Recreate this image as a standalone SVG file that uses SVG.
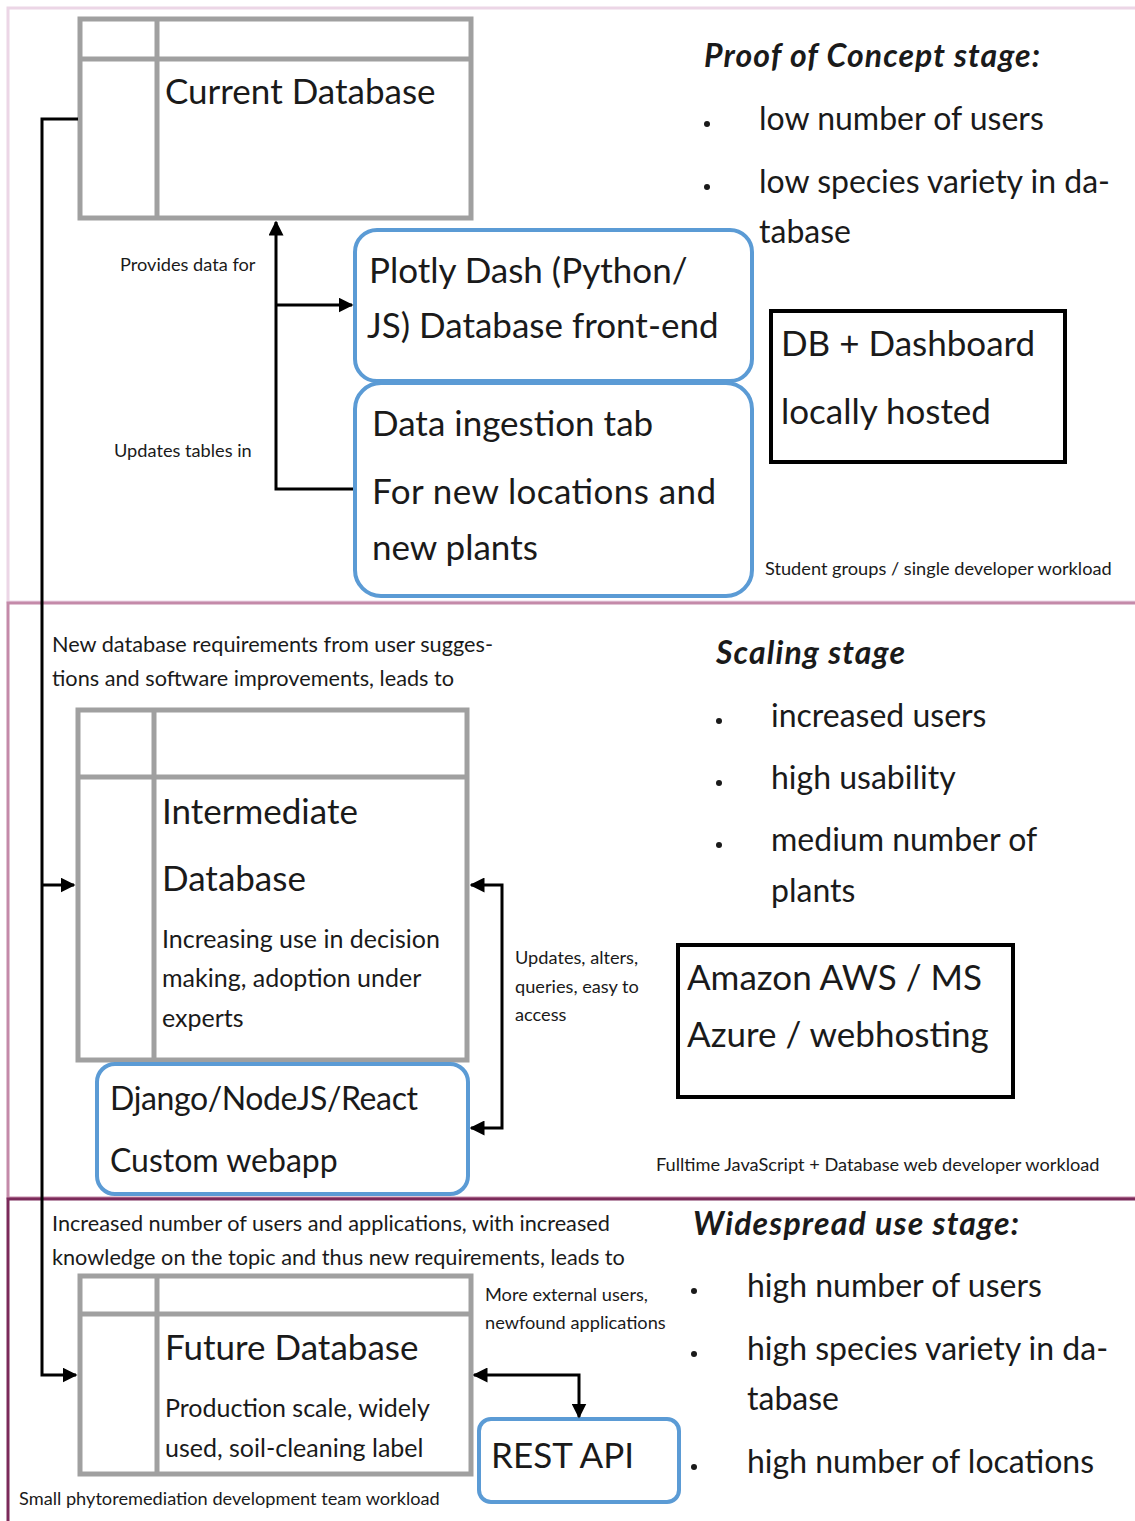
<svg xmlns="http://www.w3.org/2000/svg" width="1135" height="1521" viewBox="0 0 1135 1521">
<style>
text{font-family:Lato,"Open Sans","Noto Sans",sans-serif;fill:#1a1a1a}
.tbl{fill:#fff;stroke:#a0a0a0;stroke-width:5}
.tl{stroke:#a0a0a0;stroke-width:5}
.blue{fill:#fff;stroke:#5b9bd5;stroke-width:4}
.blk{fill:#fff;stroke:#000;stroke-width:4}
.con{fill:none;stroke:#000;stroke-width:3}
.big{font-size:35px}
.dj{font-size:32px}
.mid{font-size:25px}
.note{font-size:21.7px}
.sm{font-size:18.2px}
.hd{font-size:32px;font-weight:bold;font-style:italic}
.bl{font-size:32px}
</style>
<defs>
<marker id="ah" viewBox="0 0 10 10" refX="9" refY="5" markerWidth="5" markerHeight="5" orient="auto-start-reverse" markerUnits="strokeWidth">
<path d="M0,0 L10,5 L0,10 z" fill="#000"/>
</marker>
</defs>
<rect width="1135" height="1521" fill="#fff"/>
<g id="sections">
<rect x="8" y="8" width="1140" height="594" fill="none" stroke="#ecd6e6" stroke-width="3"/>
<rect x="8" y="603" width="1140" height="595" fill="none" stroke="#c48aa9" stroke-width="3"/>
<rect x="8" y="1199" width="1140" height="330" fill="none" stroke="#7b2a5a" stroke-width="3"/>
</g>
<g id="current-db">
<rect class="tbl" x="80" y="19" width="391" height="199"/>
<line class="tl" x1="80" y1="59" x2="471" y2="59"/>
<line class="tl" x1="157" y1="19" x2="157" y2="218"/>
<text class="big" x="165" y="104">Current Database</text>
</g>
<g id="plotly">
<rect class="blue" x="355" y="230" width="397" height="151" rx="22"/>
<text class="big" x="369" y="283">Plotly Dash (Python/</text>
<text class="big" x="367" y="338">JS) Database front-end</text>
</g>
<g id="ingestion">
<rect class="blue" x="355" y="383" width="397" height="213" rx="26"/>
<text class="big" x="372" y="436">Data ingestion tab</text>
<text class="big" x="372" y="504" textLength="344">For new locations and</text>
<text class="big" x="372" y="560">new plants</text>
</g>
<g id="poc-info">
<text class="hd" x="704" y="67" textLength="336">Proof of Concept stage:</text>
<circle cx="707" cy="124" r="3" fill="#1a1a1a"/>
<text class="bl" x="759" y="130">low number of users</text>
<circle cx="707" cy="187" r="3" fill="#1a1a1a"/>
<text class="bl" x="759" y="193">low species variety in da-</text>
<text class="bl" x="759" y="243">tabase</text>
</g>
<g id="local">
<rect class="blk" x="771" y="311" width="294" height="151"/>
<text class="big" x="781" y="356">DB + Dashboard</text>
<text class="big" x="781" y="424">locally hosted</text>
</g>
<text class="sm" x="765" y="575">Student groups / single developer workload</text>
<text class="sm" x="120" y="271">Provides data for</text>
<text class="sm" x="114" y="457">Updates tables in</text>

<text class="note" x="52" y="652">New database requirements from user sugges-</text>
<text class="note" x="52" y="686">tions and software improvements, leads to</text>
<g id="intermediate-db">
<rect class="tbl" x="78" y="710" width="389" height="350"/>
<line class="tl" x1="78" y1="777" x2="467" y2="777"/>
<line class="tl" x1="154" y1="710" x2="154" y2="1060"/>
<text class="big" x="162" y="824">Intermediate</text>
<text class="big" x="162" y="891">Database</text>
<text class="mid" x="162" y="948">Increasing use in decision</text>
<text class="mid" x="162" y="987">making, adoption under</text>
<text class="mid" x="162" y="1027">experts</text>
</g>
<g id="webapp">
<rect class="blue" x="97" y="1064" width="371" height="130" rx="18"/>
<text class="dj" x="110" y="1110" textLength="308">Django/NodeJS/React</text>
<text class="dj" x="110" y="1172">Custom webapp</text>
</g>
<text class="sm" x="515" y="964">Updates, alters,</text>
<text class="sm" x="515" y="993">queries, easy to</text>
<text class="sm" x="515" y="1021">access</text>
<g id="scaling-info">
<text class="hd" x="716" y="664" textLength="189">Scaling stage</text>
<circle cx="719" cy="721" r="3" fill="#1a1a1a"/>
<text class="bl" x="771" y="727">increased users</text>
<circle cx="719" cy="783" r="3" fill="#1a1a1a"/>
<text class="bl" x="771" y="789">high usability</text>
<circle cx="719" cy="845" r="3" fill="#1a1a1a"/>
<text class="bl" x="771" y="851">medium number of</text>
<text class="bl" x="771" y="902">plants</text>
</g>
<g id="cloud">
<rect class="blk" x="678" y="945" width="335" height="152"/>
<text class="big" x="687" y="990">Amazon AWS / MS</text>
<text class="big" x="687" y="1047">Azure / webhosting</text>
</g>
<text class="sm" x="656" y="1171">Fulltime JavaScript + Database web developer workload</text>

<text class="note" x="52" y="1231">Increased number of users and applications, with increased</text>
<text class="note" x="52" y="1265">knowledge on the topic and thus new requirements, leads to</text>
<g id="future-db">
<rect class="tbl" x="80" y="1276" width="391" height="198"/>
<line class="tl" x1="80" y1="1314" x2="471" y2="1314"/>
<line class="tl" x1="157" y1="1276" x2="157" y2="1474"/>
<text class="big" x="165" y="1360">Future Database</text>
<text class="mid" x="165" y="1417">Production scale, widely</text>
<text class="mid" x="165" y="1457">used, soil-cleaning label</text>
</g>
<text class="sm" x="485" y="1301">More external users,</text>
<text class="sm" x="485" y="1329">newfound applications</text>
<g id="rest-api">
<rect class="blue" x="479" y="1419" width="200" height="83" rx="12"/>
<text class="big" x="491" y="1468">REST API</text>
</g>
<g id="wide-info">
<text class="hd" x="693" y="1235" textLength="326">Widespread use stage:</text>
<circle cx="694" cy="1291" r="3" fill="#1a1a1a"/>
<text class="bl" x="747" y="1297">high number of users</text>
<circle cx="694" cy="1354" r="3" fill="#1a1a1a"/>
<text class="bl" x="747" y="1360">high species variety in da-</text>
<text class="bl" x="747" y="1410">tabase</text>
<circle cx="694" cy="1467" r="3" fill="#1a1a1a"/>
<text class="bl" x="747" y="1473">high number of locations</text>
</g>
<text class="sm" x="19" y="1505">Small phytoremediation development team workload</text>

<g id="connectors">
<path class="con" d="M78,119 H42 V1375 H76" marker-end="url(#ah)"/>
<path class="con" d="M42,885 H74" marker-end="url(#ah)"/>
<path class="con" d="M353,489 H276 V222" marker-end="url(#ah)"/>
<path class="con" d="M276,305 H352" marker-end="url(#ah)"/>
<path class="con" d="M471,885 H502 V1128 H471" marker-start="url(#ah)" marker-end="url(#ah)"/>
<path class="con" d="M474,1375 H579 V1417" marker-start="url(#ah)" marker-end="url(#ah)"/>
</g>
</svg>
